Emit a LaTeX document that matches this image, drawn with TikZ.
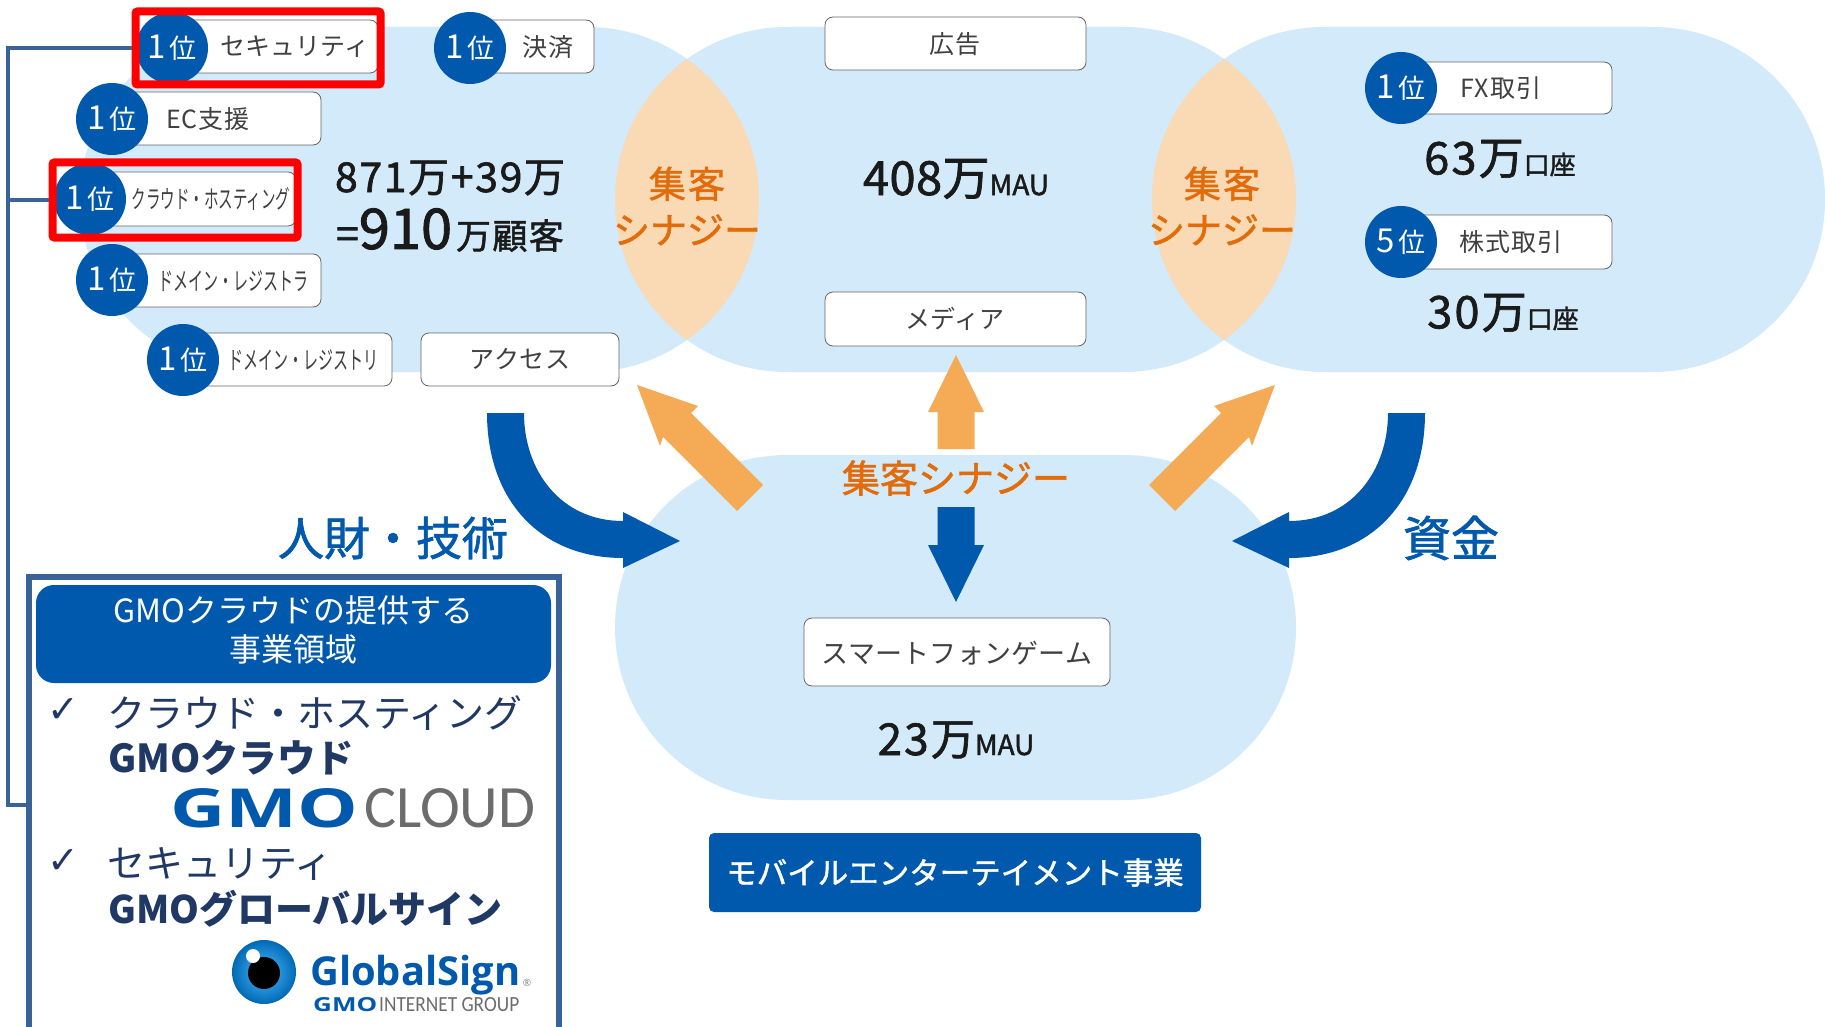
\documentclass[tikz,border=0pt]{standalone}
\usepackage{fontspec}
\setmainfont{Noto Sans CJK JP}
\newfontfamily\medfont[FakeBold=1.5]{Noto Sans CJK JP}
\newfontfamily\symfont{DejaVu Sans}
\newfontfamily\logofont{Open Sans}
\newfontfamily\thinfont{Carlito}
\newcommand{\fs}[1]{\fontsize{#1}{#1}\selectfont}
\newcommand{\spaced}[2]{{\addfontfeature{LetterSpace=#1}#2}}
\newcommand{\firstrank}{{\fs{33}1}\hspace{3pt}{\fs{27}位}}
\definecolor{skyfill}{HTML}{D2EAF9}
\definecolor{lensfill}{HTML}{FAD9B5}
\definecolor{gmoblue}{HTML}{0059AC}
\definecolor{railblue}{HTML}{3A6497}
\definecolor{navytext}{HTML}{1F3864}
\definecolor{synergy}{HTML}{E36C0A}
\definecolor{arroworange}{HTML}{F5AB55}
\definecolor{inktext}{HTML}{1A1A1A}
\definecolor{labelgray}{HTML}{404040}
\tikzset{
  ratebox/.style={draw=gray!80!black,fill=white,thick,rounded corners=8pt,inner sep=0pt},
  badge/.style={circle,fill=gmoblue,text=white,minimum size=72pt,inner sep=0pt},
  itemlabel/.style={inner sep=0pt,text=labelgray,font=\fs{25}},
  redframe/.style={draw=red,line width=8pt,rounded corners=2pt,inner sep=0pt},
  railline/.style={draw=railblue,line width=4pt},
  stat/.style={inner sep=0pt,text=inktext,font=\medfont\fs{41}},
  synergytext/.style={inner sep=0pt,text=synergy,font=\medfont\fs{37},align=center},
  blockblue/.style={fill=gmoblue},
  blockorange/.style={fill=arroworange},
  stadium/.style={fill=skyfill,rounded corners=172pt}
}
\begin{document}
\begin{tikzpicture}[x=1pt,y=-1pt]
\useasboundingbox (0,0) rectangle (1825,1027);
% clouds
\fill[stadium] (80,27) rectangle (759,372);
\fill[stadium] (615,27) rectangle (1296,372);
\fill[stadium] (1152,27) rectangle (1825,372);
\fill[stadium] (615,455) rectangle (1296,800);
\begin{scope}
    \clip[rounded corners=172pt] (80,27) rectangle (759,372);
    \fill[lensfill,rounded corners=172pt] (615,27) rectangle (1296,372);
\end{scope}
\begin{scope}
    \clip[rounded corners=172pt] (615,27) rectangle (1296,372);
    \fill[lensfill,rounded corners=172pt] (1152,27) rectangle (1825,372);
\end{scope}
% rank boxes
\node[ratebox,minimum width=206pt,minimum height=53pt] (secbox) at (275,46.5) {};
\node[ratebox,minimum width=124pt,minimum height=53pt] (paybox) at (532,46.5) {};
\node[ratebox,minimum width=209pt,minimum height=53pt] (ecbox) at (216.5,118.5) {};
\node[ratebox,minimum width=206pt,minimum height=54pt] (cloudbox) at (193,199) {};
\node[ratebox,minimum width=209pt,minimum height=53pt] (regbox) at (216.5,280.5) {};
\node[ratebox,minimum width=209pt,minimum height=53pt] (regybox) at (287.5,359.5) {};
\node[ratebox,minimum width=198pt,minimum height=53pt] (accbox) at (520,359.5) {};
\node[ratebox,minimum width=261pt,minimum height=53pt] (adbox) at (955.5,43.5) {};
\node[ratebox,minimum width=261pt,minimum height=54pt] (mediabox) at (955.5,319) {};
\node[ratebox,minimum width=211pt,minimum height=52pt] (fxbox) at (1506.5,88) {};
\node[ratebox,minimum width=211pt,minimum height=54pt] (stockbox) at (1506.5,242) {};
\node[ratebox,minimum width=306pt,minimum height=68pt] (gamebox) at (957,652) {};
\node[badge] (secrank) at (172,48) {\firstrank};
\node[badge] (payrank) at (470,48) {\firstrank};
\node[badge] (ecrank) at (112,119) {\firstrank};
\node[badge] (cloudrank) at (90,199) {\firstrank};
\node[badge] (regrank) at (112,280) {\firstrank};
\node[badge] (regyrank) at (183,360) {\firstrank};
\node[badge] (fxrank) at (1401,88) {\firstrank};
\node[badge] (stockrank) at (1401,242) {{\fs{33}5}\hspace{3pt}{\fs{27}位}};
\node[itemlabel] (seclabel) at (295,47) {\spaced{0}{セキュリティ}};
\node[itemlabel] (paylabel) at (548,47) {\spaced{3}{決済}};
\node[itemlabel] (eclabel) at (208,119) {\spaced{4}{EC支援}};
\node[itemlabel] (cloudlabel) at (211,199) {\scalebox{0.58}[1]{クラウド・ホスティング}};
\node[itemlabel] (reglabel) at (233,281) {\scalebox{0.6}[1]{ドメイン・レジストラ}};
\node[itemlabel] (regylabel) at (303,360) {\scalebox{0.6}[1]{ドメイン・レジストリ}};
\node[itemlabel] (acclabel) at (520,359) {\spaced{2}{アクセス}};
\node[itemlabel] (adlabel) at (955,44) {\spaced{4}{広告}};
\node[itemlabel] (medialabel) at (955,319) {\spaced{1}{メディア}};
\node[itemlabel] (fxlabel) at (1501,88) {\spaced{5}{FX取引}};
\node[itemlabel] (stocklabel) at (1511,242) {\spaced{4}{株式取引}};
\node[itemlabel,font=\fs{27}] (gamelabel) at (957,653) {\spaced{1}{スマートフォンゲーム}};
% figures
\node[stat] (custsum) at (450,178) {\spaced{4}{871万+39万}};
\node[stat] (custtotal) at (450,230) {=\fs{56}910\hspace{4pt}\fs{35}\spaced{4}{万顧客}};
\node[stat] (mainmau) at (956,179) {\fs{47}\spaced{1}{408万}\fs{28}MAU};
\node[stat] (fxcount) at (1500,159) {\fs{45}\spaced{5}{63万}\fs{26}口座};
\node[stat] (stockcount) at (1503,313) {\fs{45}\spaced{5}{30万}\fs{26}口座};
\node[stat] (gamemau) at (956,740) {\fs{44}\spaced{5}{23万}\fs{28}MAU};
\node[synergytext] (leftsyn) at (687,206) {\spaced{6}{集客}\\[9pt]シナジー};
\node[synergytext] (rightsyn) at (1222,206) {\spaced{6}{集客}\\[9pt]シナジー};
% block arrows
\fill[blockorange] (956,355) -- (984,412) -- (974.5,412) -- (974.5,449) -- (937.5,449) -- (937.5,412) -- (928,412) -- cycle;
\fill[blockblue] (956,602) -- (984,545) -- (974.5,545) -- (974.5,507) -- (937.5,507) -- (937.5,545) -- (928,545) -- cycle;
\fill[blockorange] (637,385) -- (698,406) -- (691,413) -- (763,485) -- (737,511) -- (663,437) -- (660,446) -- cycle;
\fill[blockblue] (487,413) -- (524,413) .. controls (524,470) and (560,521) .. (623,521) -- (623,512) -- (680,541) -- (623,568) -- (623,558) .. controls (540,558) and (487,500) .. (487,413) -- cycle;
\begin{scope}[shift={(1912,0)},xscale=-1]
    \fill[blockorange] (637,385) -- (698,406) -- (691,413) -- (763,485) -- (737,511) -- (663,437) -- (660,446) -- cycle;
    \fill[blockblue] (487,413) -- (524,413) .. controls (524,470) and (560,521) .. (623,521) -- (623,512) -- (680,541) -- (623,568) -- (623,558) .. controls (540,558) and (487,500) .. (487,413) -- cycle;
\end{scope}
\node[synergytext,font=\medfont\fs{38}] (midsyn) at (956,478) {集客シナジー};
\node[inner sep=0pt,text=gmoblue,font=\medfont\fs{46}] (talent) at (393,538) {人財・技術};
\node[inner sep=0pt,text=gmoblue,font=\medfont\fs{48}] (funds) at (1451,538) {資金};
\node[fill=gmoblue,text=white,rounded corners=5pt,minimum width=492pt,minimum height=79pt,inner sep=0pt,font=\medfont\fs{30.5}] (mobilebar) at (955,872.5) {モバイルエンターテイメント事業};
% red frames and rail
\node[redframe,minimum width=245pt,minimum height=73pt] (secframe) at (258,48) {};
\node[redframe,minimum width=245pt,minimum height=75pt] (cloudframe) at (175,200) {};
\coordinate (railend) at (8,805);
\coordinate (panelleft) at (27,805);
\draw[railline] (secframe.west) -| (railend) -- (panelleft);
\draw[railline] (cloudframe.west) -- (8,200);
% panel
\coordinate (panelbl) at (29,1027);
\coordinate (paneltl) at (29,577);
\coordinate (paneltr) at (559,577);
\coordinate (panelbr) at (559,1027);
\fill[white] (panelbl) -- (paneltl) -- (paneltr) -- (panelbr) -- cycle;
\draw[railblue,line width=5.5pt] (panelbl) -- (paneltl) -- (paneltr) -- (panelbr);
\node[fill=gmoblue,rounded corners=18pt,minimum width=515pt,minimum height=98pt,inner sep=0pt] (panelhead) at (293.5,634) {};
\node[text=white,inner sep=0pt,align=center,font=\fs{32}] (panelheadtext) at (293.5,630) {GMOクラウドの提供する\\[7pt]事業領域};
\node[inner sep=0pt,text=navytext,font=\symfont\fs{38}] (checka) at (63,711) {✓};
\node[inner sep=0pt,text=navytext,font=\symfont\fs{38}] (checkb) at (63,862) {✓};
\node[anchor=west,inner sep=0pt,text=navytext,font=\fs{38}] (hostitem) at (107,713) {クラウド・ホスティング};
\node[anchor=west,inner sep=0pt,text=navytext,font=\bfseries\fs{38.5}] (hostname) at (108,758) {GMOクラウド};
\node[anchor=west,inner sep=0pt,text=navytext,font=\fs{38}] (secitem) at (107,864) {セキュリティ};
\node[anchor=west,inner sep=0pt,text=navytext,font=\bfseries\fs{38}] (secname) at (108,909) {GMOグローバルサイン};
% logos
\node[anchor=west,inner sep=0pt,text=gmoblue] (gmologo) at (170,808) {\resizebox{188pt}{39pt}{\logofont\bfseries GMO}};
\node[anchor=west,inner sep=0pt,text=gray!85!black] (cloudlogo) at (364,808) {\resizebox{171pt}{39pt}{\thinfont CLOUD}};
\shade[inner color=cyan!60!blue!70,outer color=gmoblue!90!cyan] (264,972) circle (32pt);
\fill[black] (264,973) circle (16pt);
\fill[white] (253,956) circle (7pt);
\node[anchor=west,inner sep=0pt,text=gmoblue] (signlogo) at (310,975) {\resizebox{210pt}{!}{\logofont\bfseries GlobalSign}};
\node[inner sep=0pt,text=gray,font=\logofont\fs{10}] (signmark) at (527,983) {®};
\node[anchor=west,inner sep=0pt,text=gmoblue] (groupgmo) at (313,1005) {\resizebox{64pt}{14pt}{\logofont\bfseries GMO}};
\node[anchor=west,inner sep=0pt,text=gray!85!black] (grouptext) at (379,1005) {\resizebox{140pt}{14pt}{\thinfont INTERNET GROUP}};
\end{tikzpicture}
\end{document}
